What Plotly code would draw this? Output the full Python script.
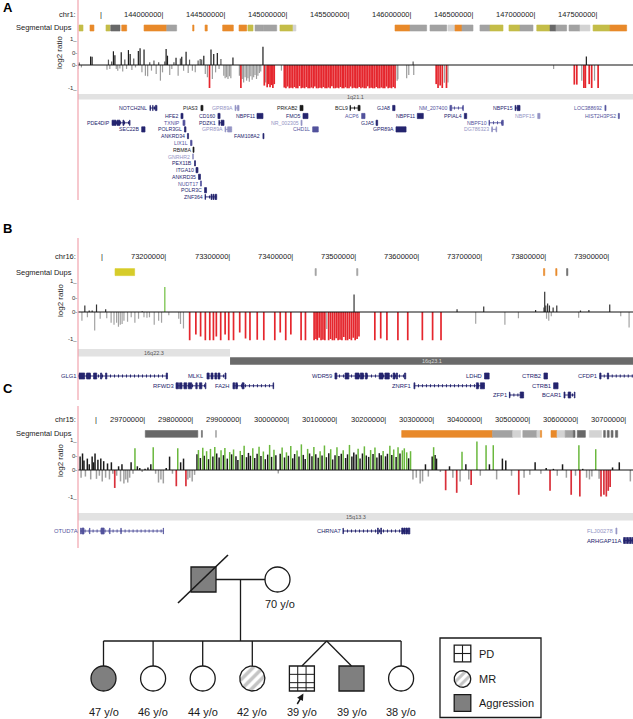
import math
import plotly.graph_objects as go

W, H = 633, 719
FONT = "Liberation Sans, Arial, Helvetica, sans-serif"

# ============================ DATA ============================
# ---------- Panel A : chr1 (positions in Mb) ----------
A_chrom = "chr1"
A_ticks = [143.5, 144.0, 144.5, 145.0, 145.5, 146.0, 146.5, 147.0, 147.5]
A_tick_labels = ["", "144000000", "144500000", "145000000", "145500000",
                 "146000000", "146500000", "147000000", "147500000"]
A_seg_start = [143.306, 143.395, 143.524, 143.562, 143.651, 143.831, 144.014, 144.223, 144.323, 144.465,
               144.597, 144.669, 144.726, 144.793, 144.927, 145.032, 145.855, 145.976, 146.137, 146.282,
               146.339, 146.395, 146.540, 146.621, 146.774, 146.863, 146.998, 147.105, 147.153, 147.258,
               147.347, 147.452, 147.589]
A_seg_end = [143.339, 143.427, 143.556, 143.637, 143.691, 144.014, 144.094, 144.234, 144.341, 144.551,
             144.659, 144.710, 144.793, 144.901, 145.032, 145.056, 145.976, 146.110, 146.272, 146.339,
             146.395, 146.484, 146.621, 146.726, 146.863, 146.968, 147.105, 147.153, 147.239, 147.347,
             147.427, 147.589, 147.723]
A_seg_type = ['y', 'o', 'y', 'd', 'o', 'o', 'g', 'o', 'o', 'o',
              'o', 'y', 'g', 'g', 'y', 'l', 'o', 'g', 'g', 'l',
              'o', 'g', 'g', 'y', 'y', 'g', 'y', 'd', 'g', 'g',
              'l', 'y', 'o']
A_pos = [143.297, 143.308, 143.326, 143.400, 143.412, 143.532, 143.544, 143.555, 143.570, 143.584,
         143.596, 143.607, 143.619, 143.636, 143.647, 143.659, 143.676, 143.690, 143.705, 143.719,
         143.733, 143.748, 143.762, 143.785, 143.799, 143.814, 143.831, 143.842, 143.860, 143.877,
         143.891, 143.911, 143.929, 143.949, 143.963, 143.980, 143.998, 144.009, 144.020, 144.038,
         144.055, 144.072, 144.089, 144.106, 144.124, 144.135, 144.150, 144.170, 144.187, 144.198,
         144.221, 144.244, 144.267, 144.284, 144.296, 144.313, 144.325, 144.342, 144.359, 144.371,
         144.382, 144.393, 144.408, 144.422, 144.436, 144.451, 144.474, 144.485, 144.497, 144.508,
         144.520, 144.531, 144.548, 144.600, 144.612, 144.623, 144.634, 144.646, 144.658, 144.669,
         144.680, 144.692, 144.703, 144.715, 144.726, 144.738, 144.749, 144.761, 144.772, 144.790,
         144.801, 144.812, 144.824, 144.835, 144.847, 144.858, 144.870, 144.881, 144.939,
         144.962, 144.975, 144.989, 145.003, 145.016, 145.030, 145.044, 145.057, 145.071, 145.085,
         145.099, 145.112, 145.126, 145.140, 145.154, 145.167, 145.181, 145.195, 145.209, 145.222,
         145.236, 145.250, 145.264, 145.277, 145.291, 145.305, 145.319, 145.332, 145.346, 145.360,
         145.374, 145.387, 145.401, 145.415, 145.429, 145.442, 145.456, 145.470, 145.484, 145.497,
         145.511, 145.525, 145.539, 145.552, 145.566, 145.580, 145.594, 145.607, 145.621, 145.635,
         145.649, 145.662, 145.676, 145.690, 145.704, 145.717, 145.731, 145.745, 145.759, 145.772,
         145.786, 145.800, 145.814, 145.827, 145.841, 145.855,
         145.872, 145.878, 145.949, 145.966, 146.001, 146.006,
         146.187, 146.202, 146.219, 146.236, 146.253, 146.270, 146.282,
         147.134, 147.301, 147.321, 147.361, 147.378, 147.390, 147.398, 147.421, 147.441, 147.464,
         147.493]
A_val = [-0.16, 0.10, -0.10, 0.35, 0.34, -0.19, 0.22, -0.16, 0.14, 0.56,
         0.40, -0.16, -0.23, -0.14, 0.52, -0.27, 0.22, -0.16, 0.61, 0.45,
         -0.20, 0.27, -0.10, 0.57, 0.68, -0.30, 0.63, -0.44, -0.46, 0.11,
         -0.23, 0.18, -0.37, 0.11, -0.64, -0.30, 0.14, 0.65, 0.38, -0.41,
         -0.16, 0.11, 0.30, -0.44, 0.27, 0.34, -0.23, 0.54, -0.33, 0.22,
         -0.23, -0.30, 0.18, 0.24, 0.22, 0.38, -0.37, -0.50, -0.94, 0.63,
         -0.57, 0.45, -0.30, 0.49, -0.16, 0.24, -0.44, -0.54, -0.50, -0.57,
         -0.46, -0.54, 0.31, -0.44, -0.94, -0.57, -0.71, -0.50, -0.64, -0.54,
         -0.68, -0.46, -0.60, -0.50, -0.41, -0.57, -0.44, -0.33, -0.27, 0.75,
         -0.84, -0.71, -0.91, -0.78, -0.91, -0.82, -0.94, -0.78, -0.23,
         -0.92, -0.95, -0.88, -0.95, -0.93, -0.95, -0.90, -0.95, -0.95, -0.86,
         -0.95, -0.93, -0.95, -0.90, -0.95, -0.95, -0.92, -0.95, -0.88, -0.95,
         -0.95, -0.93, -0.95, -0.90, -0.95, -0.95, -0.92, -0.95, -0.87, -0.95,
         -0.95, -0.93, -0.95, -0.90, -0.95, -0.95, -0.91, -0.95, -0.95, -0.88,
         -0.95, -0.93, -0.95, -0.95, -0.90, -0.95, -0.92, -0.95, -0.95, -0.87,
         -0.95, -0.93, -0.95, -0.95, -0.90, -0.95, -0.95, -0.92, -0.95, -0.95,
         -0.88, -0.95, -0.93, -0.95, -0.90, -0.95,
         -0.64, -0.58, -0.54, -0.41, 0.14, -0.41,
         -0.78, -0.94, -0.84, -0.94, -0.72, -0.94, -0.71,
         -0.16, -0.80, -0.80, -0.64, -0.94, -0.94, 0.35, -0.78, -0.94, -0.64,
         -0.94]
A_band_name = ["1q21.1"]
A_band_start = [142.4]
A_band_end = [148.0]
A_band_stain = ["gneg"]
# name, start, end, row, status class, exons
A_genes = [
    ("NOTCH2NL", 143.879, 143.935, 0, 'n', [(143.879, 143.882), (143.900, 143.904), (143.922, 143.935)]),
    ("PIAS3", 144.290, 144.306, 0, 'k', None),
    ("GPR89A", 144.565, 144.597, 0, 'l', [(144.565, 144.572), (144.585, 144.597)]),
    ("PRKAB2", 145.089, 145.113, 0, 'k', None),
    ("BCL9", 145.492, 145.573, 0, 'k', [(145.492, 145.495), (145.557, 145.573)]),
    ("GJA8", 145.836, 145.855, 0, 'n', None),
    ("NM_207400", 146.298, 146.406, 0, 'm', [(146.298, 146.312), (146.402, 146.406)]),
    ("NBPF15", 146.823, 146.863, 0, 'n', [(146.823, 146.829), (146.840, 146.863)]),
    ("LOC388692", 147.548, 147.556, 0, 'm', None),
    ("HFE2", 144.129, 144.145, 1, 'n', None),
    ("CD160", 144.427, 144.444, 1, 'n', None),
    ("NBPF11", 144.742, 144.790, 1, 'n', None),
    ("FMO5", 145.113, 145.153, 1, 'n', None),
    ("ACP6", 145.586, 145.613, 1, 'm', None),
    ("NBPF11", 146.035, 146.083, 1, 'n', None),
    ("PPIAL4", 146.414, 146.433, 1, 'n', None),
    ("NBPF15", 147.006, 147.024, 1, 'l', None),
    ("HIST2H3PS2", 147.656, 147.664, 1, 'm', None),
    ("PDE4DIP", 143.573, 143.718, 2, 'n', [(143.573, 143.605), (143.613, 143.637), (143.661, 143.669), (143.714, 143.718)]),
    ("TXNIP", 144.145, 144.161, 2, 'm', None),
    ("PDZK1", 144.435, 144.476, 2, 'n', [(144.435, 144.438), (144.452, 144.476)]),
    ("NR_002305", 145.097, 145.105, 2, 'l', None),
    ("GJA5", 145.702, 145.715, 2, 'n', None),
    ("NBPF10", 146.613, 146.728, 2, 'm', [(146.613, 146.616), (146.716, 146.728)]),
    ("SEC22B", 143.812, 143.839, 3, 'n', None),
    ("POLR3GL", 144.157, 144.169, 3, 'n', None),
    ("GPR89A", 144.484, 144.538, 3, 'l', [(144.484, 144.490), (144.505, 144.538)]),
    ("CHD1L", 145.191, 145.236, 3, 'm', None),
    ("GPR89A", 145.863, 145.944, 3, 'n', None),
    ("DG786323", 146.635, 146.675, 3, 'l', [(146.635, 146.640), (146.670, 146.675)]),
    ("ANKRD34", 144.181, 144.190, 4, 'n', None),
    ("FAM108A2", 144.790, 144.798, 4, 'n', None),
    ("LIX1L", 144.206, 144.218, 5, 'm', None),
    ("RBM8A", 144.226, 144.234, 6, 'k', None),
    ("GNRHR2", 144.222, 144.230, 7, 'l', None),
    ("PEX11B", 144.238, 144.246, 8, 'n', None),
    ("ITGA10", 144.250, 144.266, 9, 'n', None),
    ("ANKRD35", 144.270, 144.286, 10, 'n', None),
    ("NUDT17", 144.286, 144.294, 11, 'm', None),
    ("POLR3C", 144.319, 144.335, 12, 'n', None),
    ("ZNF364", 144.323, 144.417, 13, 'n', [(144.323, 144.326), (144.371, 144.379), (144.387, 144.395), (144.403, 144.417)]),
]

# ---------- Panel B : chr16 ----------
B_chrom = "chr16"
B_ticks = [73.1, 73.2, 73.3, 73.4, 73.5, 73.6, 73.7, 73.8, 73.9]
B_tick_labels = ["", "73200000", "73300000", "73400000", "73500000",
                 "73600000", "73700000", "73800000", "73900000"]
B_seg_start = [73.117, 73.4335, 73.4993, 73.7950, 73.8143, 73.8315]
B_seg_end = [73.148, 73.4355, 73.5013, 73.7970, 73.8163, 73.8335]
B_seg_type = ['Y', 'g', 'g', 'o', 'o', 'd']
B_pos = [73.0646, 73.0692, 73.0733, 73.0761, 73.0808, 73.0848, 73.0877, 73.0935, 73.1022, 73.1039,
         73.1108, 73.1154, 73.1195, 73.1224, 73.1253, 73.1282, 73.1311, 73.1368, 73.1426, 73.1484,
         73.1542, 73.1600, 73.1628, 73.1675, 73.1715, 73.1790, 73.1860, 73.1906, 73.1958, 73.2021,
         73.2178, 73.2206, 73.2253, 73.2351, 73.2449, 73.2524, 73.2599, 73.2669, 73.2727, 73.2773,
         73.2842, 73.2912, 73.2969, 73.3045, 73.3143, 73.3235, 73.3305, 73.3420, 73.3524, 73.3698,
         73.3784, 73.3871, 73.3952, 73.4114, 73.4183, 73.432, 73.435, 73.437, 73.440, 73.443,
         73.446, 73.449, 73.452, 73.455, 73.458, 73.461, 73.464, 73.467, 73.470, 73.473,
         73.476, 73.479, 73.482, 73.485, 73.488, 73.491, 73.494, 73.4952, 73.497, 73.500,
         73.503, 73.5281, 73.5374, 73.5472, 73.5646, 73.5802, 73.6033, 73.6195, 73.6328, 73.6582,
         73.6877, 73.7004, 73.7339, 73.7553, 73.7825, 73.7958, 73.7969, 73.7986, 73.7998, 73.8015,
         73.8033, 73.8044, 73.8073, 73.8102, 73.8160, 73.8506, 73.8535, 73.8668, 73.8998, 73.9172,
         73.9304]
B_val = [-0.31, 0.23, -0.18, 0.05, 0.05, -0.65, 0.26, -0.24, 0.10, -0.22,
         -0.38, -0.45, -0.38, -0.52, -0.45, -0.42, -0.31, -0.34, -0.18, -0.38,
         -0.24, 0.03, -0.18, -0.20, -0.18, -0.45, -0.31, -0.38, 0.88, -0.11,
         -0.24, -0.42, -0.58, -0.99, -0.79, -0.86, -0.99, -0.99, -0.99, -0.86,
         -0.99, -0.79, -0.99, -0.99, -0.72, -0.93, -0.99, -0.97, -0.99, -0.99,
         -0.72, -0.99, -0.79, -0.99, -0.99, -0.99, -0.95, -0.99, -0.90, -0.99,
         -0.97, -0.99, -0.60, -0.99, -0.95, -0.99, -0.99, -0.92, -0.99, -0.97,
         -0.99, -0.88, -0.99, -0.99, -0.95, -0.99, -0.90, 0.61, -0.99, -0.95,
         -0.86, -0.99, -0.93, -0.99, -0.99, -0.99, -0.99, -0.99, -0.99, 0.10,
         -0.41, 0.19, -0.45, -0.22, 0.07, 0.16, 0.71, 0.23, -0.24, 0.30,
         -0.31, 0.23, -0.15, 0.16, 0.23, -0.20, 0.05, 0.07, 0.26, -0.15,
         -0.54]
B_band_name = ["16q22.3", "16q23.1"]
B_band_start = [72.1, 73.299]
B_band_end = [73.299, 74.9]
B_band_stain = ["gneg", "gpos"]
B_genes = [
    ("GLG1", 73.040, 73.200, 0, 'n', [(73.040, 73.046), (73.060, 73.069), (73.072, 73.078), (73.083, 73.088),
                                      (73.094, 73.096), (73.102, 73.104), (73.198, 73.200)]),
    ("MLKL", 73.2625, 73.2926, 0, 'n', [(73.2625, 73.266), (73.269, 73.272), (73.275, 73.278), (73.280, 73.283),
                                        (73.291, 73.2926)]),
    ("WDR59", 73.465, 73.577, 0, 'n', [(73.465, 73.468), (73.481, 73.487), (73.497, 73.503), (73.505, 73.510),
                                       (73.513, 73.516), (73.535, 73.541), (73.544, 73.551), (73.557, 73.560),
                                       (73.562, 73.564), (73.575, 73.577)]),
    ("LDHD", 73.7016, 73.709, 0, 'n', None),
    ("CTRB2", 73.7957, 73.8013, 0, 'n', None),
    ("CFDP1", 73.884, 74.000, 0, 'n', [(73.884, 73.886), (73.896, 73.898)]),
    ("RFWD3", 73.2135, 73.2608, 1, 'n', [(73.2135, 73.2175), (73.219, 73.223), (73.226, 73.2305), (73.233, 73.2385),
                                         (73.2448, 73.247), (73.2505, 73.2544), (73.2598, 73.2608)]),
    ("FA2H", 73.3036, 73.368, 1, 'n', [(73.3036, 73.3065), (73.308, 73.3106), (73.318, 73.3212), (73.367, 73.368)]),
    ("ZNRF1", 73.590, 73.7016, 1, 'n', [(73.590, 73.5915), (73.6888, 73.692), (73.695, 73.7016)]),
    ("CTRB1", 73.811, 73.818, 1, 'n', None),
    ("ZFP1", 73.741, 73.7635, 2, 'n', [(73.741, 73.7418), (73.758, 73.7635)]),
    ("BCAR1", 73.8274, 73.8448, 2, 'n', [(73.8274, 73.829), (73.834, 73.838), (73.8438, 73.8448)]),
]

# ---------- Panel C : chr15 ----------
C_chrom = "chr15"
C_ticks = [29.6, 29.7, 29.8, 29.9, 30.0, 30.1, 30.2, 30.3, 30.4, 30.5, 30.6, 30.7]
C_tick_labels = ["", "29700000", "29800000", "29900000", "30000000", "30100000",
                 "30200000", "30300000", "30400000", "30500000", "30600000", "30700000"]
C_seg_start = [29.6985, 29.8152, 29.8445, 30.2316, 30.4204, 30.4624, 30.4834, 30.5127, 30.5200, 30.5420,
               30.5545, 30.5715, 30.5884, 30.5967, 30.6218, 30.6514, 30.6590, 30.6670, 30.6760]
C_seg_end = [29.8077, 29.8172, 29.8465, 30.4204, 30.4624, 30.4790, 30.5127, 30.5190, 30.5225, 30.5545,
             30.5715, 30.5884, 30.5920, 30.6135, 30.6470, 30.6550, 30.6630, 30.6710, 30.6807]
C_seg_type = ['d', 'd', 'g', 'o', 'g', 'l', 'g', 'l', 'o', 'o',
              'l', 'g', 'd', 'd', 'l', 'd', 'd', 'd', 'd']
C_pos = [29.563, 29.565, 29.568, 29.571, 29.574, 29.578, 29.582, 29.585, 29.588, 29.591,
         29.594, 29.597, 29.600, 29.603, 29.606, 29.609, 29.612, 29.616, 29.620, 29.624,
         29.628, 29.631, 29.635, 29.639, 29.643, 29.647, 29.650, 29.654, 29.658, 29.662,
         29.666, 29.669, 29.673, 29.677, 29.682, 29.687, 29.692, 29.698, 29.704, 29.710,
         29.715, 29.720, 29.726, 29.731, 29.736, 29.742, 29.749, 29.755, 29.763, 29.766,
         29.772, 29.778, 29.783, 29.787, 29.791, 29.796, 29.801,
         29.806, 29.809, 29.813, 29.818, 29.821, 29.826, 29.830, 29.834, 29.839, 29.843,
         29.847, 29.852, 29.856, 29.861, 29.864, 29.869, 29.874, 29.878, 29.882, 29.887,
         29.891, 29.896, 29.900, 29.904, 29.909, 29.913, 29.917, 29.922, 29.926, 29.931,
         29.935, 29.939, 29.944, 29.948, 29.953, 29.957, 29.961, 29.966, 29.970, 29.975,
         29.979, 29.983, 29.988, 29.992, 29.996, 30.001, 30.005, 30.009, 30.014, 30.018,
         30.023, 30.027, 30.031, 30.036, 30.040, 30.045, 30.049, 30.053, 30.058, 30.062,
         30.066, 30.071, 30.075, 30.080, 30.084, 30.088, 30.093, 30.097, 30.101, 30.106,
         30.110, 30.115, 30.119, 30.123, 30.128, 30.132, 30.137, 30.141, 30.145, 30.150,
         30.154, 30.158, 30.163, 30.167, 30.172, 30.176, 30.180, 30.185, 30.189, 30.193,
         30.198, 30.202, 30.207, 30.211, 30.215, 30.220, 30.224, 30.228, 30.233, 30.237,
         30.242, 30.246, 30.250,
         30.255, 30.262, 30.270, 30.275, 30.281, 30.287, 30.295, 30.298, 30.301, 30.304,
         30.312, 30.323, 30.331, 30.338, 30.346, 30.353, 30.357, 30.365, 30.371, 30.376,
         30.388, 30.395, 30.407, 30.414, 30.422, 30.429, 30.441, 30.448, 30.460, 30.475,
         30.486, 30.498, 30.509, 30.521, 30.532, 30.540, 30.547, 30.555, 30.566, 30.574,
         30.584, 30.593, 30.600, 30.602, 30.608, 30.616, 30.622, 30.627, 30.635, 30.642,
         30.646, 30.652, 30.657, 30.661, 30.665, 30.670, 30.684, 30.707]
C_val = [0.47, -0.27, 0.58, 0.33, -0.23, 0.40, 0.20, -0.33, 0.47, 0.27,
         0.58, -0.31, 0.36, -0.20, 0.40, -0.40, 0.31, -0.27, 0.23, -0.33,
         0.27, -0.13, -0.63, -0.20, 0.13, -0.40, 0.20, -0.47, -0.33, -0.44,
         -0.27, 0.27, -0.13, 0.76, 0.13, 0.07, -0.07, 0.04, 0.09, 0.20,
         0.80, -0.13, -0.44, -0.33, -0.47, 0.07, 0.47, -0.13, -0.57, 0.76,
         0.27, 0.40, -0.57, -0.33, -0.27, -0.40, -0.17,
         0.55, 0.70, 0.42, 0.78, 0.50, 0.66, 0.38, 0.74, 0.47, 0.81,
         0.58, 0.44, 0.69, 0.52, 0.77, 0.40, 0.63, 0.55, 0.72, 0.48,
         0.35, 0.67, 0.53, 0.85, 0.45, 0.60, 0.50, 0.76, 0.42, 0.57,
         0.82, 0.49, 0.65, 0.38, 0.54, 0.88, 0.46, 0.71, 0.52, -0.12,
         0.57, 0.79, 0.44, 0.62, 0.50, 0.84, 0.41, 0.56, 0.68, 0.47,
         0.90, 0.53, 0.39, 0.74, 0.58, 0.48, 0.81, 0.55, 0.43, 0.66,
         0.51, 0.86, 0.45, 0.59, 0.73, 0.37, 0.52, 0.80, 0.49, 0.57,
         0.69, 0.42, 0.55, 0.88, 0.47, 0.61, 0.54, 0.75, 0.40, 0.58,
         0.83, 0.51, 0.46, 0.70, 0.56, 0.79, 0.44, 0.59, 0.52, 0.67,
         0.48, 0.57, 0.85, 0.53, 0.72, 0.46, 0.80, 0.58, 0.69, 0.76,
         0.62, 0.41, 0.66,
         -0.33, -0.27, -0.47, -0.40, 0.20, -0.23, 0.47, 0.80, 0.53, 0.40,
         -0.07, -0.71, 0.13, -0.27, -0.80, -0.40, 0.64, 0.20, -0.33, -0.53,
         1.00, -0.20, 0.87, 0.20, 0.87, -0.33, 0.40, 0.33, -0.20, -0.87,
         -0.27, -0.17, 0.27, -0.13, 0.07, -0.73, 0.04, -0.20, 0.20, -0.27,
         -0.87, -0.20, 0.87, -0.93, 0.04, -0.27, -0.33, -0.23, 0.73, -0.31,
         -0.93, -0.87, -0.93, -0.73, -0.60, 0.09, 0.27, -0.40]
C_band_name = ["15q13.3"]
C_band_start = [29.0]
C_band_end = [31.0]
C_band_stain = ["gneg"]
C_genes = [
    ("OTUD7A", 29.564, 29.7364, 0, 'm', [(29.564, 29.5655), (29.567, 29.5711), (29.5827, 29.5832), (29.6065, 29.6130),
                                          (29.6245, 29.6250), (29.6478, 29.6483), (29.7358, 29.7364)]),
    ("CHRNA7", 30.1096, 30.2485, 0, 'n', [(30.1096, 30.1100), (30.1813, 30.1830), (30.1880, 30.1896), (30.2316, 30.2345),
                                          (30.2360, 30.2390), (30.2405, 30.2435), (30.2450, 30.2485)]),
    ("FLJ00278", 30.677, 30.679, 0, 'l', None),
    ("ARHGAP11A", 30.693, 30.720, 1, 'n', [(30.693, 30.697), (30.699, 30.703), (30.705, 30.709), (30.711, 30.720)]),
]

# ---------- Pedigree ----------
PED_parent_sex = ["M", "F"]
PED_parent_pheno = ["Aggression", ""]
PED_parent_deceased = [True, False]
PED_parent_age = [None, 70]
PED_child_sex = ["F", "F", "F", "F", "M", "M", "F"]
PED_child_pheno = ["Aggression", "", "", "MR", "PD", "Aggression", ""]
PED_child_age = [47, 46, 44, 42, 39, 39, 38]
PED_twins = (4, 5)
PED_proband = 4
LEGEND_items = ["PD", "MR", "Aggression"]

for a, b in [(A_pos, A_val), (B_pos, B_val), (C_pos, C_val), (A_seg_start, A_seg_end), (C_seg_start, C_seg_end)]:
    assert len(a) == len(b)

# ============================ DRAWING ============================
def xp(p):
    return p / W


def yp(p):
    return 1 - p / H


SEG_COL = {'o': '#e8892a', 'y': '#c4bd48', 'Y': '#d6cc2a', 'g': '#a2a2a2', 'd': '#686868', 'l': '#d3d3d3'}
GENE_COL = {'k': '#1a1a1a', 'n': '#24246e', 'm': '#52529c', 'l': '#9494c4'}
BAND_COL = {'gneg': '#e2e2e2', 'gpos': '#6a6a6a'}
BAND_TXT = {'gneg': '#555555', 'gpos': '#d8d8d8'}
RED = '#e5262d'

fig = go.Figure()
shapes = []
annots = []
X_LEFT = 78


def txt(text, x, y, xref='paper', yref='paper', size=7.5, color='#222', xanchor='center',
        yanchor='middle', **kw):
    d = dict(text=text, x=x, y=y, xref=xref, yref=yref, showarrow=False, xanchor=xanchor,
             yanchor=yanchor, font=dict(family=FONT, size=size, color=color), borderpad=0)
    d.update(kw)
    annots.append(d)


PANELS = [
    dict(letter="A", chrom=A_chrom, ticks=A_ticks, labels=A_tick_labels, xa="x", ya="y",
         xr=(143.2984, 147.7742), yr=(-1.102, 1.143), ydom=(37, 92),
         seg=(A_seg_start, A_seg_end, A_seg_type), pos=A_pos, val=A_val,
         bands=(A_band_name, A_band_start, A_band_end, A_band_stain), genes=A_genes,
         letter_y=7, tick_y=15, seg_y=(25, 31), log_lab_y=52, band_rows={'gneg': (94, 99.5)},
         gene_rows=[108, 116, 122.8, 129.4, 136.1, 142.9, 149.7, 156.5, 163.3, 170.1, 176.8, 183.5, 190.2, 196.9],
         gene_fs=5.2, exon_h=2.6, pink=(0, 200), bar_w=1.2,
         colors=lambda v: ('#1c1c1c' if v >= 0.3 else '#5a5a5a') if v >= 0 else (RED if v <= -0.75 else '#9c9c9c')),
    dict(letter="B", chrom=B_chrom, ticks=B_ticks, labels=B_tick_labels, xa="x2", ya="y2",
         xr=(73.0584, 73.9366), yr=(-1.15, 1.15), ydom=(279.2, 344.8),
         seg=(B_seg_start, B_seg_end, B_seg_type), pos=B_pos, val=B_val,
         bands=(B_band_name, B_band_start, B_band_end, B_band_stain), genes=B_genes,
         letter_y=229, tick_y=256.5, seg_y=(268.6, 275.6), log_lab_y=300,
         band_rows={'gneg': (349, 356.5), 'gpos': (357.3, 364.8)},
         gene_rows=[376, 385.8, 395], gene_fs=5.8, exon_h=3.0, pink=(238, 400), bar_w=1.2,
         colors=lambda v: ('#6fbf3f' if v >= 0.8 else '#333333') if v >= 0 else (RED if v <= -0.7 else '#a3a3a3')),
    dict(letter="C", chrom=C_chrom, ticks=C_ticks, labels=C_tick_labels, xa="x3", ya="y3",
         xr=(29.5586, 30.7125), yr=(-1.333, 1.193), ydom=(436, 508),
         seg=(C_seg_start, C_seg_end, C_seg_type), pos=C_pos, val=C_val,
         bands=(C_band_name, C_band_start, C_band_end, C_band_stain), genes=C_genes,
         letter_y=389, tick_y=419, seg_y=(430.5, 437.3), log_lab_y=460, band_rows={'gneg': (513, 520.5)},
         gene_rows=[531, 540.5], gene_fs=5.8, exon_h=3.0, pink=(406, 548), bar_w=1.5,
         colors=lambda v: ('#6ab83d' if v >= 0.62 else '#1a1a1a') if v >= 0 else ('#d9303a' if v <= -0.5 else '#a0a0a0')),
]

layout_axes = {}
for k, P in enumerate(PANELS):
    xa, ya = P['xa'], P['ya']
    xmin, xmax = P['xr']
    xname = 'xaxis' if xa == 'x' else 'xaxis' + xa[1:]
    yname = 'yaxis' if ya == 'y' else 'yaxis' + ya[1:]
    layout_axes[xname] = dict(domain=[xp(X_LEFT), 1], range=[xmin, xmax], visible=False, anchor=ya)
    layout_axes[yname] = dict(domain=[yp(P['ydom'][1]), yp(P['ydom'][0])], range=list(P['yr']),
                              visible=False, anchor=xa)

    # panel letter, chromosome row
    txt("<b>%s</b>" % P['letter'], xp(2), yp(P['letter_y']), size=13, color='black', xanchor='left')
    txt(P['chrom'] + ":", xp(77), yp(P['tick_y']), xanchor='right')
    for t, lab in zip(P['ticks'], P['labels']):
        txt((lab + "|") if lab else "|", t, yp(P['tick_y']), xref=xa, xanchor='right')

    # segmental dups
    txt("Segmental Dups", xp(73), yp(sum(P['seg_y']) / 2), xanchor='right')
    for s, e, c in zip(*P['seg']):
        s2, e2 = max(s, xmin), min(e, xmax)
        if e2 <= s2:
            continue
        shapes.append(dict(type='rect', xref=xa, yref='paper', x0=s2, x1=e2,
                           y0=yp(P['seg_y'][1]), y1=yp(P['seg_y'][0]),
                           fillcolor=SEG_COL[c], line=dict(color=SEG_COL[c], width=0.6)))

    # log2 ratio track
    txt("log2 ratio", xp(60), yp(P['log_lab_y']), size=8, textangle=-90)
    for v, lab, sh in [(1, "1_", 2), (0.5, "0-", 0), (0, "0-", 0), (-1, "-1_", 2)]:
        txt(lab, xp(77.5), v, yref=ya, size=6, xanchor='right', yshift=sh, color='#333')
    shapes.append(dict(type='line', xref=xa, yref=ya, x0=xmin, x1=xmax, y0=0, y1=0,
                       line=dict(color='#111', width=1)))
    groups = {}
    for p_, v in zip(P['pos'], P['val']):
        c = P['colors'](v)
        gx, gy = groups.setdefault(c, ([], []))
        gx += [p_, p_, None]
        gy += [0, v, None]
    for c, (gx, gy) in groups.items():
        fig.add_trace(go.Scatter(x=gx, y=gy, xaxis=xa, yaxis=ya, mode='lines',
                                 line=dict(color=c, width=1.7 if c in (RED, '#d9303a') else P['bar_w']),
                                 hoverinfo='skip'))

    # cytobands
    for name, s, e, st in zip(*P['bands']):
        s2, e2 = max(s, xmin), min(e, xmax)
        r0, r1 = P['band_rows'][st]
        shapes.append(dict(type='rect', xref=xa, yref='paper', x0=s2, x1=e2, y0=yp(r1), y1=yp(r0),
                           fillcolor=BAND_COL[st], line=dict(width=0)))
        txt(name, (s2 + e2) / 2, yp((r0 + r1) / 2), xref=xa, size=5.5, color=BAND_TXT[st])

    # genes
    for name, s, e, row, cls, exons in P['genes']:
        col = GENE_COL[cls]
        yc = P['gene_rows'][row]
        s2, e2 = max(s, xmin), min(e, xmax)
        exs = exons if exons else [(s, e)]
        if exons:
            shapes.append(dict(type='line', xref=xa, yref='paper', x0=s2, x1=e2, y0=yp(yc), y1=yp(yc),
                               line=dict(color=col, width=0.9)))
            shapes.append(dict(type='line', xref=xa, yref='paper', x0=s2, x1=e2, y0=yp(yc), y1=yp(yc),
                               line=dict(color=col, width=3, dash='1px,3px')))
        h = P['exon_h']
        for a, b in exs:
            a2, b2 = max(a, xmin), min(b, xmax)
            if b2 <= a2:
                continue
            shapes.append(dict(type='rect', xref=xa, yref='paper', x0=a2, x1=b2, y0=yp(yc + h), y1=yp(yc - h),
                               fillcolor=col, line=dict(color=col, width=0.7)))
        txt(name, s2, yp(yc), xref=xa, size=P['gene_fs'], color=col, xanchor='right', xshift=-1.5)

    # pink left border of the browser image
    shapes.append(dict(type='line', xref='paper', yref='paper', x0=xp(X_LEFT), x1=xp(X_LEFT),
                       y0=yp(P['pink'][1]), y1=yp(P['pink'][0]), line=dict(color='#f1a3ae', width=1.2)))

# ---------------- pedigree (pixel-unit axis) ----------------
layout_axes['xaxis4'] = dict(domain=[0, 1], range=[0, W], visible=False, anchor='y4')
layout_axes['yaxis4'] = dict(domain=[0, 1], range=[H, 0], visible=False, anchor='x4')
PL = dict(color='#1a1a1a', width=1.3)
GREY = '#7f7f7f'


def pline(x0, y0, x1, y1, width=1.3):
    shapes.append(dict(type='line', xref='x4', yref='y4', x0=x0, y0=y0, x1=x1, y1=y1,
                       line=dict(color='#1a1a1a', width=width)))


def striped_circle(cx, cy, r, size=7):
    ang = [2 * math.pi * i / 90 for i in range(91)]
    fig.add_trace(go.Scatter(x=[cx + r * math.cos(a) for a in ang], y=[cy + r * math.sin(a) for a in ang],
                             xaxis='x4', yaxis='y4', mode='lines', fill='toself', fillcolor='white',
                             fillpattern=dict(shape='/', fgcolor='#8a8a8a', bgcolor='white', size=size,
                                              solidity=0.5),
                             line=PL, hoverinfo='skip'))


def individual(cx, cy, sex, pheno, r=12.5):
    if pheno == 'MR' and sex == 'F':
        striped_circle(cx, cy, r)
        return
    fill = GREY if pheno == 'Aggression' else 'white'
    shapes.append(dict(type='rect' if sex == 'M' else 'circle', xref='x4', yref='y4',
                       x0=cx - r, x1=cx + r, y0=cy - r, y1=cy + r, fillcolor=fill, line=PL))
    if pheno == 'PD':
        for f in (1 / 3, 2 / 3):
            pline(cx - r + 2 * r * f, cy - r, cx - r + 2 * r * f, cy + r, 1.0)
        for f in (1 / 3, 2 / 3, 0.87):
            pline(cx - r, cy - r + 2 * r * f, cx + r, cy - r + 2 * r * f, 1.0)


PAR_Y, PAR_X = 579.5, (203.5, 277.5)
CH_Y, CH_X0, CH_DX, SIB_Y, R = 678.5, 103.5, 49.6, 641, 12.5
for i, (sex, ph, dec, age) in enumerate(zip(PED_parent_sex, PED_parent_pheno, PED_parent_deceased, PED_parent_age)):
    cx = PAR_X[i]
    individual(cx, PAR_Y, sex, ph)
    if dec:
        pline(cx - 25.5, PAR_Y + 23.5, cx + 24.5, PAR_Y - 24.5, 1.6)
    if age:
        txt("%d y/o" % age, cx + 2.5, PAR_Y + 24, xref='x4', yref='y4', size=11, color='#1a1a1a')
pline(PAR_X[0] + R, PAR_Y, PAR_X[1] - R, PAR_Y)
mid = (PAR_X[0] + R + PAR_X[1] - R) / 2
pline(mid, PAR_Y, mid, SIB_Y)
ch_x = [CH_X0 + i * CH_DX for i in range(len(PED_child_sex))]
pline(ch_x[0], SIB_Y, ch_x[-1], SIB_Y)
apex = (ch_x[PED_twins[0]] + ch_x[PED_twins[1]]) / 2
for i, (sex, ph, age) in enumerate(zip(PED_child_sex, PED_child_pheno, PED_child_age)):
    cx = ch_x[i]
    individual(cx, CH_Y, sex, ph)
    if i in PED_twins:
        pline(apex, SIB_Y, cx, CH_Y - R)
    else:
        pline(cx, SIB_Y, cx, CH_Y - R)
    txt("%d y/o" % age, cx, 712, xref='x4', yref='y4', size=11, color='#1a1a1a')
# proband arrow
pcx = ch_x[PED_proband]
annots.append(dict(x=pcx + 1.5, y=CH_Y + R + 2.5, ax=pcx - 5.5, ay=CH_Y + R + 14.5, xref='x4', yref='y4',
                   axref='x4', ayref='y4', showarrow=True, arrowhead=2, arrowsize=0.9, arrowwidth=1.5,
                   arrowcolor='#1a1a1a', text=''))

# legend box
shapes.append(dict(type='rect', xref='x4', yref='y4', x0=440, x1=541, y0=638, y1=717.5,
                   fillcolor='rgba(0,0,0,0)', line=PL))
leg_y = [653.5, 679, 703]
for item, ly in zip(LEGEND_items, leg_y):
    cx, r = 462.5, 8.3
    if item == 'PD':
        shapes.append(dict(type='rect', xref='x4', yref='y4', x0=cx - r, x1=cx + r, y0=ly - r, y1=ly + r,
                           fillcolor='white', line=PL))
        pline(cx, ly - r, cx, ly + r, 1.1)
        pline(cx - r, ly, cx + r, ly, 1.1)
    elif item == 'MR':
        striped_circle(cx, ly, r, size=6)
    else:
        shapes.append(dict(type='rect', xref='x4', yref='y4', x0=cx - r, x1=cx + r, y0=ly - r, y1=ly + r,
                           fillcolor=GREY, line=PL))
    txt(item, 478, ly, xref='x4', yref='y4', size=11, color='#1a1a1a', xanchor='left')

fig.update_layout(width=W, height=H, margin=dict(l=0, r=0, t=0, b=0), paper_bgcolor='white',
                  plot_bgcolor='rgba(0,0,0,0)', showlegend=False, shapes=shapes, annotations=annots,
                  font=dict(family=FONT), **layout_axes)
fig.write_html("out.html", config={'displayModeBar': False, 'staticPlot': True},
               post_script="document.body.style.margin='0px';")
